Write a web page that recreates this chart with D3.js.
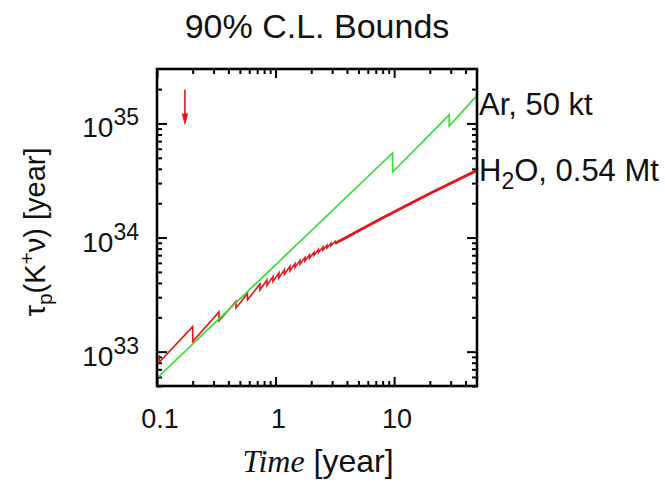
<!DOCTYPE html>
<html>
<head>
<meta charset="utf-8">
<script src="https://cdn.jsdelivr.net/npm/d3@7"></script>
<style>
  html, body { margin: 0; padding: 0; background: #fff; }
  svg { display: block; }
  text { font-family: "Liberation Sans", Arial, Helvetica, sans-serif; fill: #111; }
</style>
</head>
<body>
<svg id="chart" width="665" height="486"></svg>
<script>
// ---------------- data ----------------
const titleText = "90% C.L. Bounds";

const xMajorTicks = [0.1, 1, 10];
const xTickLabels = ["0.1", "1", "10"];
const xMinorTicks = [0.2, 0.3, 0.4, 0.5, 0.6, 0.7, 0.8, 0.9, 2, 3, 4, 5, 6, 7, 8, 9, 20, 30, 40];

const yMajorTicks = [1e33, 1e34, 1e35];
const yTickBase = ["10", "10", "10"];
const yTickExp = ["33", "34", "35"];
const yMinorTicks = [5e32, 6e32, 7e32, 8e32, 9e32,
  2e33, 3e33, 4e33, 5e33, 6e33, 7e33, 8e33, 9e33,
  2e34, 3e34, 4e34, 5e34, 6e34, 7e34, 8e34, 9e34,
  2e35];

// Ar, 50 kt (green)
const arTime = [0.1, 9.71, 9.71, 29.15, 29.15, 50];
const arTau  = [5.85e32, 5.52e34, 3.75e34, 1.19e35, 9.47e34, 1.76e35];

// H2O, 0.54 Mt (red) - sawtooth part
const h2oTime = [0.1, 0.1044, 0.1044, 0.2, 0.2, 0.3332, 0.3332, 0.4636, 0.4636,
  0.5795, 0.5795, 0.7384, 0.7384, 0.8462, 0.8462, 0.9508, 0.9508, 1.068, 1.068,
  1.188, 1.188, 1.323, 1.323, 1.458, 1.458, 1.606, 1.606, 1.769, 1.769,
  1.931, 1.931, 2.108, 2.108, 2.299, 2.299, 2.510, 2.510, 2.713, 2.713,
  2.933, 2.933, 3.168, 3.168];
const h2oTau = [8.65e32, 9.10e32, 8.06e32, 1.657e33, 1.225e33, 2.228e33, 1.859e33,
  2.753e33, 2.415e33, 3.233e33, 2.837e33, 3.914e33, 3.469e33, 4.249e33, 3.803e33,
  4.553e33, 4.119e33, 4.907e33, 4.436e33, 5.228e33, 4.776e33, 5.596e33, 5.112e33,
  5.925e33, 5.467e33, 6.304e33, 5.817e33, 6.675e33, 6.220e33, 7.058e33, 6.578e33,
  7.427e33, 6.991e33, 7.853e33, 7.392e33, 8.250e33, 7.767e33, 8.555e33, 8.136e33,
  8.925e33, 8.486e33, 9.245e33, 8.880e33];
// H2O - dense (fine sawtooth, drawn as a fuzzy band)
const h2oDenseTime = [3.168, 7.59, 20.0, 50];
const h2oDenseTau  = [8.88e33, 1.446e34, 2.429e34, 3.88e34];

// red arrow marker
const arrowTime = 0.172;
const arrowFrom = 1.98e35;
const arrowTo = 9.6e34;

const seriesLabels = ["Ar, 50 kt", "H2O, 0.54 Mt"];

// ---------------- layout ----------------
const plot = { left: 157, top: 69, right: 477, bottom: 386 };
const RED = "#e3161c", GREEN = "#3ddc3d";

const svg = d3.select("#chart");
const x = d3.scaleLog().domain([0.1, 50]).range([plot.left, plot.right]);
const y = d3.scaleLog().domain([5e32, 3e35]).range([plot.bottom, plot.top]);

svg.append("defs").append("clipPath").attr("id", "clip")
  .append("rect").attr("x", plot.left).attr("y", plot.top)
  .attr("width", plot.right - plot.left).attr("height", plot.bottom - plot.top);

// ---------------- ticks (inward, on all four sides) ----------------
function tickAxis(axisFn, scale, values, size, transform) {
  const g = svg.append("g").attr("transform", transform)
    .call(axisFn(scale).tickValues(values).tickSize(size).tickFormat(""));
  g.select(".domain").remove();
  g.selectAll(".tick line").attr("stroke", "#000").attr("stroke-width", 2);
  return g;
}
tickAxis(d3.axisBottom, x, xMajorTicks, -9, `translate(0,${plot.bottom})`);
tickAxis(d3.axisBottom, x, xMinorTicks, -5, `translate(0,${plot.bottom})`);
tickAxis(d3.axisTop, x, xMajorTicks, -9, `translate(0,${plot.top})`);
tickAxis(d3.axisTop, x, xMinorTicks, -5, `translate(0,${plot.top})`);
tickAxis(d3.axisLeft, y, yMajorTicks, -10, `translate(${plot.left},0)`);
tickAxis(d3.axisLeft, y, yMinorTicks, -5, `translate(${plot.left},0)`);
tickAxis(d3.axisRight, y, yMajorTicks, -10, `translate(${plot.right},0)`);
tickAxis(d3.axisRight, y, yMinorTicks, -5, `translate(${plot.right},0)`);

// ---------------- curves ----------------
const line = d3.line().x(d => x(d[0])).y(d => y(d[1]));
const plotG = svg.append("g").attr("clip-path", "url(#clip)");

plotG.append("path")
  .datum(h2oDenseTime.map((t, i) => [t, h2oDenseTau[i]]))
  .attr("d", line).attr("fill", "none").attr("stroke", RED)
  .attr("stroke-width", 2.8).attr("stroke-linejoin", "round");
plotG.append("path")
  .datum(h2oTime.map((t, i) => [t, h2oTau[i]]))
  .attr("d", line).attr("fill", "none").attr("stroke", RED)
  .attr("stroke-width", 1.6).attr("stroke-linejoin", "miter");
plotG.append("path")
  .datum(arTime.map((t, i) => [t, arTau[i]]))
  .attr("d", line).attr("fill", "none").attr("stroke", GREEN)
  .attr("stroke-width", 1.7).attr("stroke-linejoin", "miter");

// arrow
const ax = x(arrowTime), ay0 = y(arrowFrom), ay1 = y(arrowTo);
svg.append("line").attr("x1", ax).attr("x2", ax).attr("y1", ay0).attr("y2", ay1 - 8)
  .attr("stroke", RED).attr("stroke-width", 1.6);
svg.append("path")
  .attr("d", `M${ax - 3.2},${ay1 - 12} L${ax + 3.2},${ay1 - 12} L${ax},${ay1} Z`)
  .attr("fill", RED);

// frame
svg.append("rect").attr("x", plot.left).attr("y", plot.top)
  .attr("width", plot.right - plot.left).attr("height", plot.bottom - plot.top)
  .attr("fill", "none").attr("stroke", "#000").attr("stroke-width", 2.6);

// ---------------- labels ----------------
svg.append("text").attr("x", 317).attr("y", 38).attr("text-anchor", "middle")
  .attr("font-size", 34).text(titleText);

// x tick labels
svg.selectAll(".xlab").data(xMajorTicks).enter().append("text")
  .attr("x", d => x(d) + 3).attr("y", 428).attr("text-anchor", "middle")
  .attr("font-size", 27).text((d, i) => xTickLabels[i]);

// y tick labels 10^n
yMajorTicks.forEach((v, i) => {
  const t = svg.append("text").attr("x", 139).attr("y", y(v) + 14)
    .attr("text-anchor", "end").attr("font-size", 28);
  t.append("tspan").text(yTickBase[i]);
  t.append("tspan").attr("dy", -12).attr("font-size", 23).text(yTickExp[i]);
});

// x axis title
const xt = svg.append("text").attr("x", 318).attr("y", 472).attr("text-anchor", "middle")
  .attr("font-size", 32);
xt.append("tspan").attr("font-family", "'Liberation Serif', 'Times New Roman', serif")
  .attr("font-style", "italic").text("Time");
xt.append("tspan").text(" [year]");

// y axis title (rotated)
const yt = svg.append("text").attr("transform", "translate(45,232) rotate(-90)")
  .attr("text-anchor", "middle").attr("font-size", 29);
yt.append("tspan").text("\u03C4");
yt.append("tspan").attr("font-size", 21).attr("dy", 7).text("p");
yt.append("tspan").attr("dy", -7).text("(K");
yt.append("tspan").attr("font-size", 21).attr("dy", -11).text("+");
yt.append("tspan").attr("dy", 11).text("\u03BD) [year]");

// series labels at right edge
svg.append("text").attr("x", 479).attr("y", 115).attr("font-size", 31).text(seriesLabels[0]);
const hl = svg.append("text").attr("x", 479).attr("y", 181).attr("font-size", 31);
hl.append("tspan").text("H");
hl.append("tspan").attr("font-size", 23).attr("dy", 8).text("2");
hl.append("tspan").attr("dy", -8).text("O, 0.54 Mt");
</script>
</body>
</html>
